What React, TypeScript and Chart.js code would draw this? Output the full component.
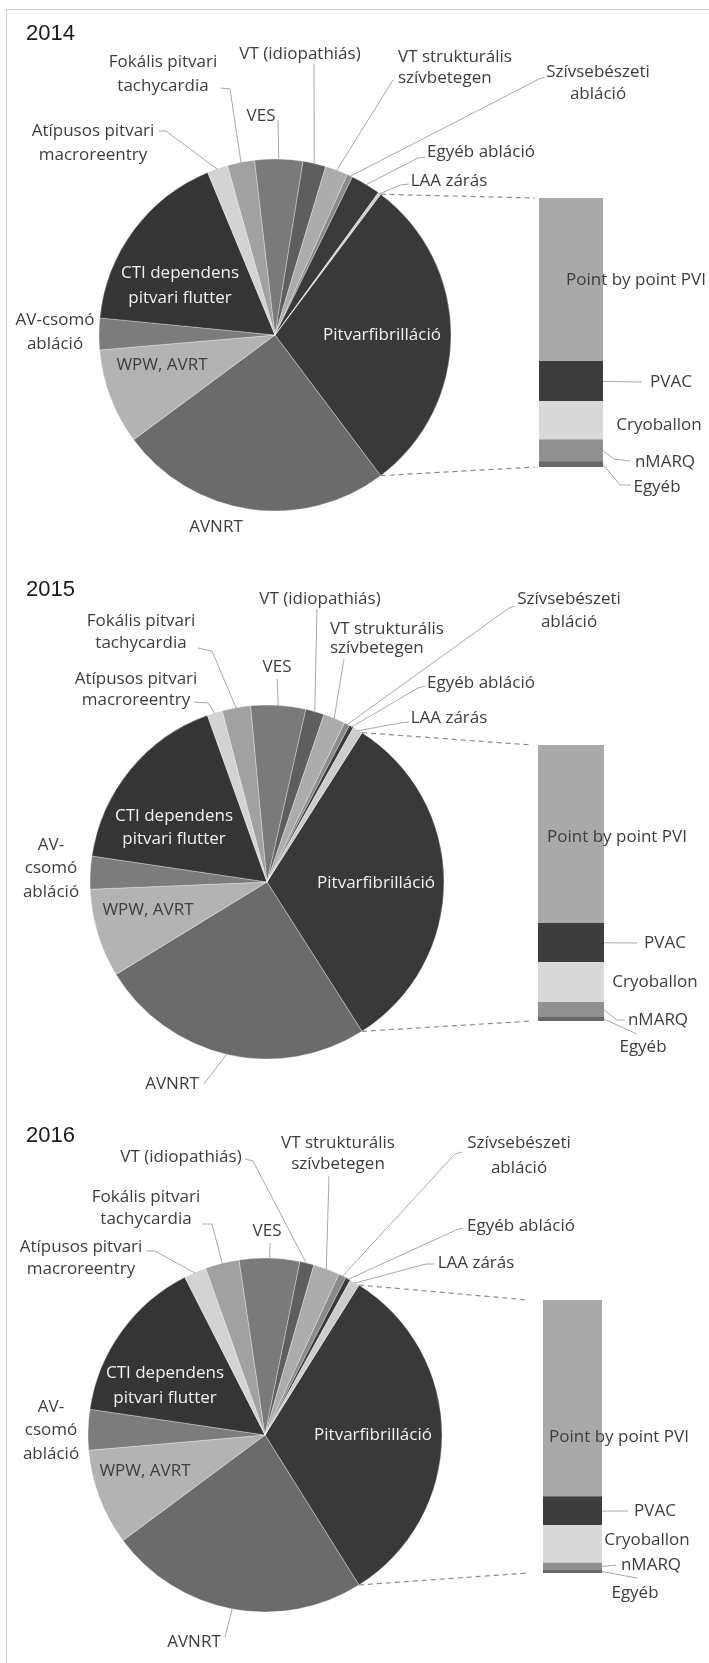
import React, { useEffect, useRef } from "react";
import { Chart, registerables } from "chart.js";

Chart.register(...registerables);

// ---------- DATA ----------
const YEARS = ["2014", "2015", "2016"];

// Pie categories, clockwise starting with the slice that is split into the bar
const PIE_CATEGORIES = [
  "Pitvarfibrilláció",
  "AVNRT",
  "WPW, AVRT",
  "AV-csomó abláció",
  "CTI dependens pitvari flutter",
  "Atípusos pitvari macroreentry",
  "Fokális pitvari tachycardia",
  "VES",
  "VT (idiopathiás)",
  "VT strukturális szívbetegen",
  "Szívsebészeti abláció",
  "Egyéb abláció",
  "LAA zárás",
];

// share of all procedures (%)
const PIE_2014 = [29.5, 25.1, 8.8, 2.9, 17.2, 1.9, 2.5, 4.4, 2.1, 2.1, 0.5, 2.75, 0.25];
const PIE_2015 = [32.0, 25.3, 8.1, 3.0, 17.2, 1.4, 2.6, 5.0, 1.7, 2.0, 0.5, 0.4, 0.9];
const PIE_2016 = [32.2, 23.75, 8.8, 3.7, 15.2, 2.05, 3.1, 5.5, 1.3, 2.4, 0.7, 0.45, 0.9];

// Pitvarfibrilláció broken down (bottom to top of the stacked bar), same % units
const BAR_CATEGORIES = ["Egyéb", "nMARQ", "Cryoballon", "PVAC", "Point by point PVI"];
const BAR_2014 = [0.58, 2.41, 4.2, 4.39, 17.92];
const BAR_2015 = [0.43, 1.74, 4.64, 4.52, 20.67];
const BAR_2016 = [0.32, 0.86, 4.45, 3.34, 23.23];

// ---------- STYLE ----------
const PIE_COLORS = [
  "#393939", "#6b6b6b", "#b3b3b3", "#7c7c7c", "#353535", "#d3d3d3", "#a1a1a1",
  "#7a7a7a", "#5e5e5e", "#acacac", "#8a8a8a", "#3a3a3a", "#cdcdcd",
];
const BAR_COLORS = ["#676767", "#909090", "#d9d9d9", "#3d3d3d", "#a9a9a9"];
const TEXT = "#3d3d3d";
const WHITE = "#f2f2f2";
const LEADER = "#a8a8a8";
const FONT = '17px "Open Sans", Lato, sans-serif';
const W = 709;

type Lab = {
  i: number;
  lines: string[];
  x: number;
  y: number;
  lh?: number;
  align?: CanvasTextAlign;
  color?: string;
  leader?: number[][];
};

const PANELS = [
  {
    year: YEARS[0], top: 0, height: 540, cx: 275, cy: 335, r: 176, titleY: 34, gap: 4,
    pie: PIE_2014, bars: BAR_2014,
    pieLabels: [
      { i: 0, lines: ["Pitvarfibrilláció"], x: 382, y: 335, color: WHITE },
      { i: 1, lines: ["AVNRT"], x: 216, y: 527 },
      { i: 2, lines: ["WPW, AVRT"], x: 162, y: 365 },
      { i: 3, lines: ["AV-csomó", "abláció"], x: 55, y: 320, lh: 24 },
      { i: 4, lines: ["CTI dependens", "pitvari flutter"], x: 180, y: 273, lh: 25, color: WHITE },
      { i: 5, lines: ["Atípusos pitvari", "macroreentry"], x: 93, y: 131, lh: 24, leader: [[159, 131], [166, 131]] },
      { i: 6, lines: ["Fokális pitvari", "tachycardia"], x: 163, y: 62, lh: 24, leader: [[221, 88], [230, 89]] },
      { i: 7, lines: ["VES"], x: 261, y: 116, leader: [[278, 120]] },
      { i: 8, lines: ["VT (idiopathiás)"], x: 300, y: 54, leader: [[314, 64]] },
      { i: 9, lines: ["VT strukturális", "szívbetegen"], x: 398, y: 57, lh: 21, align: "left", leader: [[393, 80]] },
      { i: 10, lines: ["Szívsebészeti", "abláció"], x: 598, y: 72, lh: 22, leader: [[545, 77], [539, 79]] },
      { i: 11, lines: ["Egyéb abláció"], x: 481, y: 152, leader: [[425, 157], [418, 158]] },
      { i: 12, lines: ["LAA zárás"], x: 449, y: 181, leader: [[409, 184], [400, 185]] },
    ] as Lab[],
    barLabels: [
      { i: 4, x: 636, y: 280 },
      { i: 3, x: 671, y: 382, leader: [[642, 382]] },
      { i: 2, x: 659, y: 425 },
      { i: 1, x: 665, y: 462, leader: [[614, 459], [630, 461]] },
      { i: 0, x: 657, y: 487, leader: [[620, 485], [631, 485]] },
    ],
    bar: { left: 539, right: 603, top: 198, bottom: 467 },
  },
  {
    year: YEARS[1], top: 540, height: 560, cx: 267, cy: 882, r: 177, titleY: 590, gap: 6,
    pie: PIE_2015, bars: BAR_2015,
    pieLabels: [
      { i: 0, lines: ["Pitvarfibrilláció"], x: 376, y: 883, color: WHITE },
      { i: 1, lines: ["AVNRT"], x: 172, y: 1084, leader: [[204, 1084]] },
      { i: 2, lines: ["WPW, AVRT"], x: 148, y: 910 },
      { i: 3, lines: ["AV-", "csomó", "abláció"], x: 51, y: 845, lh: 23.5 },
      { i: 4, lines: ["CTI dependens", "pitvari flutter"], x: 174, y: 816, lh: 23.5, color: WHITE },
      { i: 5, lines: ["Atípusos pitvari", "macroreentry"], x: 136, y: 679, lh: 21, leader: [[194, 702], [208, 703]] },
      { i: 6, lines: ["Fokális pitvari", "tachycardia"], x: 141, y: 621, lh: 22, leader: [[198, 648], [212, 651]] },
      { i: 7, lines: ["VES"], x: 277, y: 667, leader: [[277, 679]] },
      { i: 8, lines: ["VT (idiopathiás)"], x: 320, y: 599, leader: [[317, 609]] },
      { i: 9, lines: ["VT strukturális", "szívbetegen"], x: 330, y: 629, lh: 19, align: "left", leader: [[344, 659]] },
      { i: 10, lines: ["Szívsebészeti", "abláció"], x: 569, y: 599, lh: 23, leader: [[515, 606], [509, 608]] },
      { i: 11, lines: ["Egyéb abláció"], x: 481, y: 683, leader: [[425, 686], [418, 688]] },
      { i: 12, lines: ["LAA zárás"], x: 449, y: 718, leader: [[409, 722], [400, 723]] },
    ] as Lab[],
    barLabels: [
      { i: 4, x: 617, y: 837 },
      { i: 3, x: 665, y: 943, leader: [[637, 943]] },
      { i: 2, x: 655, y: 982 },
      { i: 1, x: 658, y: 1020, leader: [[617, 1020], [625, 1020]] },
      { i: 0, x: 643, y: 1047, leader: [[637, 1034]] },
    ],
    bar: { left: 538, right: 604, top: 745, bottom: 1021 },
  },
  {
    year: YEARS[2], top: 1100, height: 563, cx: 265, cy: 1435, r: 177, titleY: 1136, gap: 15,
    pie: PIE_2016, bars: BAR_2016,
    pieLabels: [
      { i: 0, lines: ["Pitvarfibrilláció"], x: 373, y: 1435, color: WHITE },
      { i: 1, lines: ["AVNRT"], x: 194, y: 1642, leader: [[225, 1637]] },
      { i: 2, lines: ["WPW, AVRT"], x: 145, y: 1471 },
      { i: 3, lines: ["AV-", "csomó", "abláció"], x: 51, y: 1407, lh: 23.5 },
      { i: 4, lines: ["CTI dependens", "pitvari flutter"], x: 165, y: 1373, lh: 25, color: WHITE },
      { i: 5, lines: ["Atípusos pitvari", "macroreentry"], x: 81, y: 1247, lh: 22, leader: [[146, 1251], [155, 1251]] },
      { i: 6, lines: ["Fokális pitvari", "tachycardia"], x: 146, y: 1197, lh: 22, leader: [[202, 1224], [212, 1224]] },
      { i: 7, lines: ["VES"], x: 267, y: 1231, leader: [[270, 1243]] },
      { i: 8, lines: ["VT (idiopathiás)"], x: 181, y: 1157, leader: [[245, 1159], [253, 1161]] },
      { i: 9, lines: ["VT strukturális", "szívbetegen"], x: 338, y: 1143, lh: 21, leader: [[329, 1176]] },
      { i: 10, lines: ["Szívsebészeti", "abláció"], x: 519, y: 1143, lh: 25, leader: [[462, 1152], [455, 1154]] },
      { i: 11, lines: ["Egyéb abláció"], x: 521, y: 1226, leader: [[463, 1228], [456, 1230]] },
      { i: 12, lines: ["LAA zárás"], x: 476, y: 1263, leader: [[434, 1264], [426, 1264]] },
    ] as Lab[],
    barLabels: [
      { i: 4, x: 619, y: 1437 },
      { i: 3, x: 655, y: 1511, leader: [[628, 1511]] },
      { i: 2, x: 647, y: 1540 },
      { i: 1, x: 651, y: 1565, leader: [[616, 1565]] },
      { i: 0, x: 635, y: 1593, leader: [[637, 1578]] },
    ],
    bar: { left: 543, right: 602, top: 1300, bottom: 1573 },
  },
];

type Panel = (typeof PANELS)[number];

function drawLines(ctx: CanvasRenderingContext2D, lines: string[], x: number, y: number, lh: number) {
  lines.forEach((t, k) => ctx.fillText(t, x, y + k * lh));
}

function piePlugin(p: Panel) {
  return {
    id: "pieLabels" + p.year,
    afterDatasetsDraw(chart: any) {
      const ctx: CanvasRenderingContext2D = chart.ctx;
      const arcs = chart.getDatasetMeta(0).data;
      const off = p.top;
      ctx.save();
      ctx.font = '22px "Liberation Sans", Arial, sans-serif';
      ctx.fillStyle = "#1a1a1a";
      ctx.textAlign = "left";
      ctx.textBaseline = "middle";
      ctx.fillText(p.year, 26, p.titleY - off);

      ctx.font = FONT;
      for (const lab of p.pieLabels) {
        const a = arcs[lab.i].getProps(["x", "y", "startAngle", "endAngle", "outerRadius"], true);
        if (lab.leader) {
          const mid = (a.startAngle + a.endAngle) / 2;
          const R = a.outerRadius - 1;
          ctx.beginPath();
          ctx.strokeStyle = LEADER;
          ctx.lineWidth = 1;
          lab.leader.forEach(([x, y], k) => (k ? ctx.lineTo(x, y - off) : ctx.moveTo(x, y - off)));
          ctx.lineTo(a.x + Math.cos(mid) * R, a.y + Math.sin(mid) * R);
          ctx.stroke();
        }
        ctx.fillStyle = lab.color || TEXT;
        ctx.textAlign = lab.align || "center";
        ctx.textBaseline = "middle";
        drawLines(ctx, lab.lines, lab.x, lab.y - off, lab.lh || 23);
      }
      ctx.restore();
    },
  };
}

function barPlugin(p: Panel, pie: Chart) {
  return {
    id: "barLabels" + p.year,
    afterDatasetsDraw(chart: any) {
      const ctx: CanvasRenderingContext2D = chart.ctx;
      const off = p.top;
      ctx.save();
      // connectors from the split slice to the bar
      const a = (pie.getDatasetMeta(0).data[0] as any).getProps(
        ["x", "y", "startAngle", "endAngle", "outerRadius"], true);
      const topEl = chart.getDatasetMeta(BAR_CATEGORIES.length - 1).data[0].getProps(["x", "y", "width"], true);
      const botEl = chart.getDatasetMeta(0).data[0].getProps(["x", "base", "width"], true);
      const left = topEl.x - topEl.width / 2 - p.gap;
      ctx.strokeStyle = "#8c8c8c";
      ctx.lineWidth = 1.2;
      ctx.setLineDash([5, 4]);
      ctx.beginPath();
      ctx.moveTo(a.x + Math.cos(a.startAngle) * a.outerRadius, a.y + Math.sin(a.startAngle) * a.outerRadius);
      ctx.lineTo(left, topEl.y);
      ctx.moveTo(a.x + Math.cos(a.endAngle) * a.outerRadius, a.y + Math.sin(a.endAngle) * a.outerRadius);
      ctx.lineTo(left, botEl.base);
      ctx.stroke();
      ctx.setLineDash([]);

      ctx.font = FONT;
      for (const lab of p.barLabels) {
        const el = chart.getDatasetMeta(lab.i).data[0].getProps(["x", "y", "base", "width"], true);
        if (lab.leader) {
          ctx.beginPath();
          ctx.strokeStyle = LEADER;
          ctx.lineWidth = 1;
          ctx.moveTo(el.x + el.width / 2, (el.y + el.base) / 2);
          lab.leader.forEach(([x, y]) => ctx.lineTo(x, y - off));
          ctx.stroke();
        }
        ctx.fillStyle = TEXT;
        ctx.textAlign = "center";
        ctx.textBaseline = "middle";
        ctx.fillText(BAR_CATEGORIES[lab.i], lab.x, lab.y - off);
      }
      ctx.restore();
    },
  };
}

// soft vertical shading for the nMARQ segment, as in the reference
function segmentFill(i: number) {
  if (BAR_CATEGORIES[i] !== "nMARQ") return BAR_COLORS[i];
  return (c: any) => {
    const el = c.chart.getDatasetMeta(c.datasetIndex).data[c.dataIndex];
    if (!el) return BAR_COLORS[i];
    const { y, base } = el.getProps(["y", "base"], true);
    if (!isFinite(y) || !isFinite(base) || y === base) return BAR_COLORS[i];
    const g = c.chart.ctx.createLinearGradient(0, y, 0, base);
    g.addColorStop(0, "#a0a0a0");
    g.addColorStop(1, "#7c7c7c");
    return g;
  };
}

export default function App() {
  const refs = useRef<(HTMLCanvasElement | null)[]>([]);

  useEffect(() => {
    const charts: Chart[] = [];
    PANELS.forEach((p, k) => {
      const pieCanvas = refs.current[2 * k];
      const barCanvas = refs.current[2 * k + 1];
      if (!pieCanvas || !barCanvas) return;
      const total = p.pie.reduce((s, v) => s + v, 0);
      const cyLocal = p.cy - p.top;
      const pie = new Chart(pieCanvas, {
        type: "pie",
        data: {
          labels: PIE_CATEGORIES,
          datasets: [
            {
              data: p.pie,
              backgroundColor: PIE_COLORS,
              borderColor: "rgba(255,255,255,0.45)",
              borderWidth: 0.7,
              radius: p.r,
            } as any,
          ],
        },
        options: {
          responsive: false,
          animation: false,
          events: [],
          rotation: 90 - (180 * p.pie[0]) / total,
          layout: {
            padding: {
              left: p.cx - 200,
              right: W - p.cx - 200,
              top: cyLocal - 200,
              bottom: p.height - cyLocal - 200,
            },
          },
          plugins: { legend: { display: false }, tooltip: { enabled: false }, title: { display: false } },
        },
        plugins: [piePlugin(p)],
      });
      const barSum = p.bars.reduce((s, v) => s + v, 0);
      const bar = new Chart(barCanvas, {
        type: "bar",
        data: {
          labels: [p.year],
          datasets: BAR_CATEGORIES.map((c, i) => ({
            label: c,
            data: [p.bars[i]],
            backgroundColor: segmentFill(i) as any,
            borderWidth: 0,
            barPercentage: 1,
            categoryPercentage: 1,
            stack: "s",
          })),
        },
        options: {
          responsive: false,
          animation: false,
          events: [],
          layout: {
            padding: {
              left: p.bar.left,
              right: W - p.bar.right,
              top: p.bar.top - p.top,
              bottom: p.top + p.height - p.bar.bottom,
            },
          },
          scales: {
            x: { display: false, stacked: true },
            y: { display: false, stacked: true, min: 0, max: barSum },
          },
          plugins: { legend: { display: false }, tooltip: { enabled: false } },
        },
        plugins: [barPlugin(p, pie)],
      });
      charts.push(pie, bar);
    });
    return () => charts.forEach((c) => c.destroy());
  }, []);

  return (
    <div style={{ position: "absolute", left: 0, top: 0, width: W, height: 1663, overflow: "hidden", background: "#fff" }}>
      <div
        style={{
          position: "absolute", left: 6, top: 9, width: 702, height: 1660,
          borderLeft: "1px solid #cfcfcf", borderTop: "1px solid #cfcfcf",
        }}
      />
      {PANELS.map((p, k) => (
        <React.Fragment key={p.year}>
          <canvas
            ref={(el) => { refs.current[2 * k] = el; }}
            width={W}
            height={p.height}
            style={{ position: "absolute", left: 0, top: p.top, width: W, height: p.height }}
          />
          <canvas
            ref={(el) => { refs.current[2 * k + 1] = el; }}
            width={W}
            height={p.height}
            style={{ position: "absolute", left: 0, top: p.top, width: W, height: p.height, pointerEvents: "none" }}
          />
        </React.Fragment>
      ))}
    </div>
  );
}
